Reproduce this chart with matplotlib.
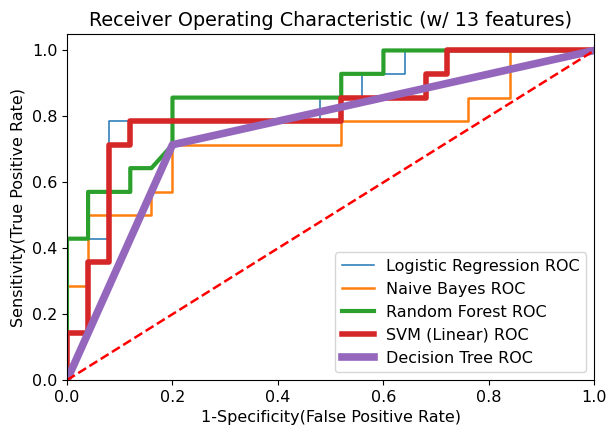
import numpy as np
import matplotlib
matplotlib.use("Agg")
import matplotlib.pyplot as plt

# ROC curve points (fpr steps of 1/25, tpr steps of 1/14)
lr_fpr = [0, 0, 0.04, 0.08, 0.08, 0.48, 0.48, 0.56, 0.56, 0.64, 0.64, 1.0]
lr_tpr = [0, 0.429, 0.429, 0.429, 0.786, 0.786, 0.857, 0.857, 0.929, 0.929, 1.0, 1.0]

nb_fpr = [0, 0, 0.04, 0.04, 0.16, 0.16, 0.2, 0.2, 0.52, 0.52, 0.76, 0.76, 0.84, 0.84, 1.0]
nb_tpr = [0, 0.286, 0.286, 0.5, 0.5, 0.571, 0.571, 0.714, 0.714, 0.786, 0.786, 0.857, 0.857, 1.0, 1.0]

rf_fpr = [0, 0, 0.04, 0.04, 0.12, 0.12, 0.16, 0.2, 0.2, 0.52, 0.52, 0.6, 0.6, 1.0]
rf_tpr = [0, 0.429, 0.429, 0.571, 0.571, 0.643, 0.643, 0.714, 0.857, 0.857, 0.929, 0.929, 1.0, 1.0]

svm_fpr = [0, 0, 0.04, 0.04, 0.08, 0.08, 0.12, 0.12, 0.52, 0.52, 0.68, 0.68, 0.72, 0.72, 1.0]
svm_tpr = [0, 0.143, 0.143, 0.357, 0.357, 0.714, 0.714, 0.786, 0.786, 0.857, 0.857, 0.929, 0.929, 1.0, 1.0]

dt_fpr = [0, 0.2, 1.0]
dt_tpr = [0, 0.714, 1.0]

fig = plt.figure(figsize=(6.09, 4.30), dpi=100)
ax = fig.add_axes([0.11, 0.116, 0.866, 0.805])

ax.plot(lr_fpr, lr_tpr, color='tab:blue', lw=1.1, label='Logistic Regression ROC')
ax.plot(nb_fpr, nb_tpr, color='tab:orange', lw=1.8, label='Naive Bayes ROC')
ax.plot(rf_fpr, rf_tpr, color='tab:green', lw=3, label='Random Forest ROC')
ax.plot(svm_fpr, svm_tpr, color='tab:red', lw=4, label='SVM (Linear) ROC')
ax.plot(dt_fpr, dt_tpr, color='tab:purple', lw=5.5, label='Decision Tree ROC')
ax.plot([0, 1], [0, 1], 'r--', lw=1.8)

ax.set_xlim(0, 1)
ax.set_ylim(0, 1.05)
ax.set_title('Receiver Operating Characteristic (w/ 13 features)', fontsize=13.8)
ax.set_xlabel('1-Specificity(False Positive Rate)', fontsize=11.5)
ax.set_ylabel('Sensitivity(True Positive Rate)', fontsize=11.5)
ax.tick_params(labelsize=11.5)
ax.legend(loc='lower right', fontsize=11.5)

fig.savefig('out.png', dpi=100)
